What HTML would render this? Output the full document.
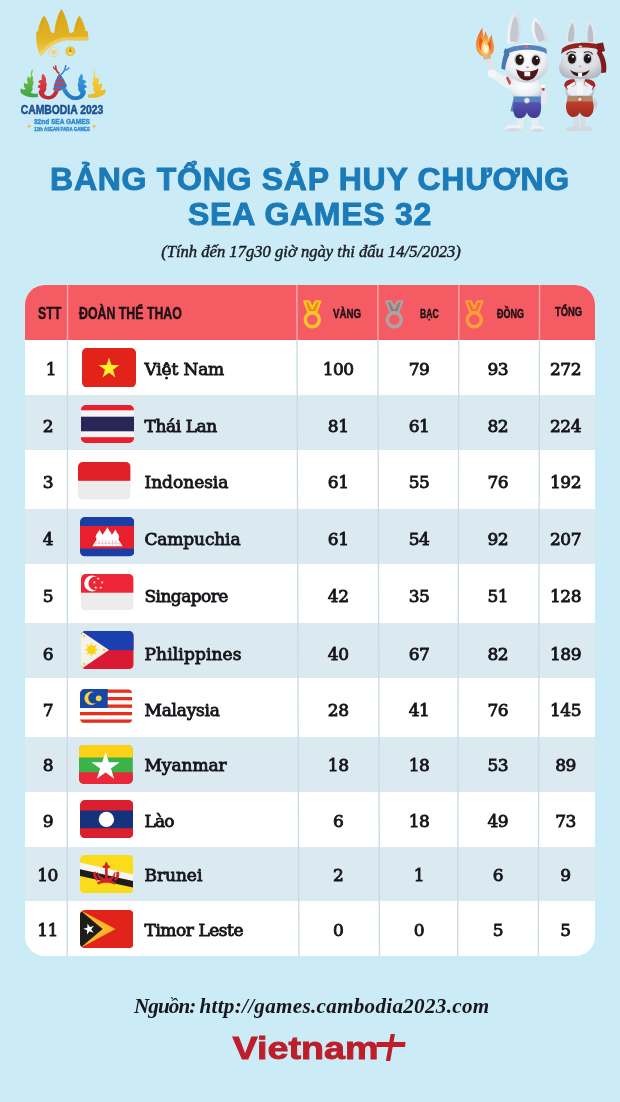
<!DOCTYPE html>
<html lang="vi"><head><meta charset="utf-8"><title>Bảng tổng sắp huy chương SEA Games 32</title>
<style>
html,body{margin:0;padding:0}
body{width:620px;height:1102px;overflow:hidden;background:#cbebf6;font-family:"Liberation Sans",sans-serif;position:relative}
.abs{position:absolute}
h1{position:absolute;left:0;width:620px;margin:0;text-align:center;color:#1b7ab8;font-weight:bold;font-size:32px;line-height:35px;top:161.5px;letter-spacing:.72px;-webkit-text-stroke:.95px #1b7ab8}
.sub{position:absolute;left:0;width:622px;top:243px;text-align:center;font-family:"Liberation Serif",serif;font-style:italic;font-size:16.6px;color:#1c1c24;line-height:18px;-webkit-text-stroke:.45px #1c1c24;white-space:nowrap}
#tbl{position:absolute;left:25.2px;top:284.5px;width:570.3px;height:671.4px;border-radius:20px;overflow:hidden;background:#fff}
#inner{position:absolute;left:-25.2px;top:-284.5px;width:620px;height:1102px}
.hd{position:absolute;left:25px;top:284px;width:571px;height:55.5px;background:#f55b63}
.alt{position:absolute;left:25px;width:571px;background:#dbeaf1}
.t{position:absolute;font-family:"DejaVu Serif","Liberation Serif",serif;font-size:17px;line-height:22px;height:22px;color:#15151a;white-space:nowrap;-webkit-text-stroke:.85px #15151a}
.n{text-align:center;width:80px;letter-spacing:-.5px}
.flag{position:absolute}
.ht{position:absolute;font-weight:bold;color:#1c1114;-webkit-text-stroke:.45px #1c1114;white-space:nowrap;transform-origin:0 50%;line-height:16px;height:16px}
.src{position:absolute;left:134px;width:400px;top:994px;font-family:"Liberation Serif",serif;font-style:italic;font-weight:bold;font-size:21.1px;line-height:24px;color:#17171f;white-space:nowrap}
</style></head><body>

<svg class="abs" style="left:10px;top:0px" width="110" height="140" viewBox="0 0 620 789">
<defs>
<linearGradient id="gGold" x1="0" y1="0" x2="0" y2="1"><stop offset="0" stop-color="#d9a514"/><stop offset=".6" stop-color="#e3b222"/><stop offset="1" stop-color="#f1cf52"/></linearGradient>
<linearGradient id="gGreen" x1="0" y1="0" x2="0" y2="1"><stop offset="0" stop-color="#8cc63f"/><stop offset="1" stop-color="#3aa648"/></linearGradient>
<linearGradient id="gYel" x1="0" y1="0" x2="0" y2="1"><stop offset="0" stop-color="#f8d94a"/><stop offset="1" stop-color="#e9b81e"/></linearGradient>
<linearGradient id="gRed" x1="0" y1="0" x2="0" y2="1"><stop offset="0" stop-color="#e0474f"/><stop offset="1" stop-color="#c22432"/></linearGradient>
<linearGradient id="gBlue" x1="0" y1="0" x2="0" y2="1"><stop offset="0" stop-color="#3f9ede"/><stop offset="1" stop-color="#1d78c4"/></linearGradient>
</defs>
<!-- crown -->
<path d="M148 180L158 176C163 140 176 106 192 89C208 106 222 140 229 178L238 186L250 184C255 130 270 80 290 50C310 80 326 130 335 184L348 186L359 178C365 140 377 106 391 89C405 106 419 140 427 176L439 176L442 227C400 233 340 222 300 229C250 239 205 276 175 318C154 286 145 236 148 180Z" fill="url(#gGold)"/>
<path d="M175 318C205 276 250 239 300 229C340 222 400 233 442 227L441 205C400 212 340 204 296 212C240 224 190 262 166 300Z" fill="#f4d976" opacity=".55"/>
<path d="M192 100C184 118 176 145 172 172M290 64C280 90 270 130 266 178M391 100C383 118 376 145 372 172" stroke="#c8930c" stroke-width="5" fill="none" opacity=".45"/>
<!-- medallions -->
<circle cx="245" cy="294" r="26" fill="#efe9d6" stroke="#d8c27a" stroke-width="3"/><circle cx="237" cy="290" r="8" fill="none" stroke="#c9b35f" stroke-width="2.500"/><circle cx="253" cy="290" r="8" fill="none" stroke="#c9b35f" stroke-width="2.500"/><circle cx="245" cy="302" r="8" fill="none" stroke="#c9b35f" stroke-width="2.500"/>
<circle cx="340" cy="289" r="26" fill="#ecc83e" stroke="#dcb02a" stroke-width="3"/><path d="M340 268L349 296H331Z" fill="#b8860b"/><circle cx="340" cy="300" r="8" fill="#f7e08a"/>
<!-- nagas: coordinates from zoom with origin (18,60) scale 6.889 -> map into this viewBox -->
<g transform="translate(45.090 345) scale(.8181)">
<!-- green -->
<path d="M100 52C104 70 100 84 92 96C104 100 108 116 100 130C110 140 110 160 98 172C106 186 100 206 86 214C100 224 120 226 138 224L136 247C100 251 50 247 24 222C14 210 14 196 22 186C30 195 44 198 54 192C40 180 36 162 44 146C50 155 62 158 70 152C58 138 60 118 70 104C74 113 84 116 90 110C84 92 88 70 100 52Z" fill="url(#gGreen)"/>
<!-- red -->
<path d="M170 86C162 100 160 114 166 128C152 126 142 134 140 146C148 147 154 151 156 158C144 161 136 169 134 181C144 181 152 185 154 192C144 199 140 211 144 223C152 248 178 264 210 264C248 264 272 238 282 200L256 190C248 222 232 240 208 240C190 240 180 230 180 216C192 208 198 193 194 178C200 166 200 152 192 142C196 128 192 112 184 104C184 97 178 90 170 86Z" fill="url(#gRed)"/>
<!-- centre cone -->
<path d="M286 84C266 108 250 150 242 198C262 210 292 204 310 194C322 188 332 180 338 172C326 140 308 108 286 84Z" fill="#2a7fd0"/>
<path d="M277 98L297 99L304 110L270 111ZM263 127L313 126L319 139L257 142ZM252 156L326 153L332 166L248 172ZM245 184L306 191L284 203L243 197Z" fill="#d93a46"/>
<!-- antlers -->
<path d="M280 90C264 78 252 58 254 28L265 30C264 52 272 68 288 82ZM258 62C248 58 240 48 240 36L249 36C250 46 256 52 264 55Z" fill="#d03040"/>
<path d="M290 88C308 78 322 58 324 26L334 28C332 60 318 82 298 96ZM322 68C338 66 350 58 356 44L347 41C343 52 334 58 322 59Z" fill="#2a7fd0"/>
<!-- blue -->
<path d="M440 86C448 100 450 114 444 128C458 126 468 134 470 146C462 147 456 151 454 158C466 161 474 169 476 181C466 181 458 185 456 192C466 199 470 211 466 223C458 248 432 268 398 268C356 268 324 238 304 196L330 182C344 218 370 242 398 242C418 242 430 230 430 216C418 208 412 193 416 178C410 166 410 152 418 142C414 128 418 112 426 104C426 97 432 90 440 86Z" fill="url(#gBlue)"/>
<!-- yellow -->
<path d="M520 56C516 74 520 88 528 100C516 104 512 120 520 134C510 144 510 164 522 176C514 190 520 210 534 218C520 228 500 230 482 228L484 251C520 255 570 251 596 226C606 214 606 200 598 190C590 199 576 202 566 196C580 184 584 166 576 150C570 159 558 162 550 156C562 142 560 122 550 108C546 117 536 120 530 114C536 96 532 74 520 56Z" fill="url(#gYel)"/>
</g>
<text x="60" y="643" font-family="'Liberation Sans',sans-serif" font-weight="bold" font-size="73" fill="#1c4f93" stroke="#1c4f93" stroke-width="3" textLength="466" lengthAdjust="spacingAndGlyphs">CAMBODIA 2023</text>
<text x="135" y="700" font-family="'Liberation Sans',sans-serif" font-weight="bold" font-size="44" fill="#2f8bd0" stroke="#2f8bd0" stroke-width="2.500" textLength="315" lengthAdjust="spacingAndGlyphs">32nd SEA GAMES</text>
<text x="135" y="741" font-family="'Liberation Sans',sans-serif" font-weight="bold" font-size="30" fill="#2f8bd0" stroke="#2f8bd0" stroke-width="2" textLength="315" lengthAdjust="spacingAndGlyphs">12th ASEAN PARA GAMES</text>
<path d="M108 699l4 9 9 4-9 4-4 9-4-9-9-4 9-4zM474 699l4 9 9 4-9 4-4 9-4-9-9-4 9-4z" fill="#e8c04a"/>
</svg>

<svg class="abs" style="left:472px;top:4px" width="82" height="136" viewBox="0 0 620 1028">
<defs>
<radialGradient id="gHead" cx=".45" cy=".35" r=".75"><stop offset="0" stop-color="#ffffff"/><stop offset=".6" stop-color="#eceff3"/><stop offset="1" stop-color="#b7c0cc"/></radialGradient>
<linearGradient id="gEar" x1="0" x2="1"><stop offset="0" stop-color="#f4f6f9"/><stop offset="1" stop-color="#d5dae2"/></linearGradient>
<radialGradient id="gFlame" cx=".5" cy=".7" r=".7"><stop offset="0" stop-color="#fff3c4"/><stop offset=".45" stop-color="#f9a33a"/><stop offset="1" stop-color="#e8561f"/></radialGradient>
<linearGradient id="gShortB" x1="0" y1="0" x2="0" y2="1"><stop offset="0" stop-color="#5a56b4"/><stop offset="1" stop-color="#3f3a92"/></linearGradient>
</defs>
<!-- torch -->
<path d="M78 180C60 215 25 260 32 325C38 375 75 405 112 400C152 395 176 352 162 300C156 275 150 262 150 232C138 246 130 262 126 278C122 250 112 228 100 205C98 222 94 236 88 250C82 228 78 205 78 180Z" fill="url(#gFlame)"/>
<path d="M60 250C48 290 52 330 70 355C66 320 72 295 84 275C78 270 68 262 60 250ZM140 270C150 300 150 335 136 362C134 335 126 312 116 298C126 292 134 282 140 270Z" fill="#e24a1c" opacity=".8"/>
<path d="M96 292C84 322 88 356 108 378C128 362 132 332 120 306C114 320 110 328 106 336C100 322 97 306 96 292Z" fill="#fff4dc" opacity=".9"/>
<path d="M84 394L140 386L170 522L140 532Z" fill="#dfe3e8"/><path d="M82 392L140 384L144 412L90 422Z" fill="#cdb98a"/>
<!-- ears -->
<path d="M327 50C368 100 378 200 352 300L268 300C260 200 284 100 327 50Z" fill="url(#gEar)"/>
<path d="M327 88C352 130 358 205 342 285L290 285C282 205 300 130 327 88Z" fill="#c3c8d1"/>
<path d="M470 100C522 118 564 200 574 280L492 306C452 250 436 160 470 100Z" fill="url(#gEar)"/>
<path d="M478 132C514 152 542 210 550 272L506 288C478 245 464 180 478 132Z" fill="#c3c8d1"/>
<!-- raised arm -->
<path d="M300 570C250 545 200 520 160 505C135 498 120 520 135 545C170 570 230 620 290 650Z" fill="#eef1f5"/>
<ellipse cx="150" cy="525" rx="32" ry="30" fill="#f4f6f9"/>
<path d="M272 548L300 600L282 612L256 558Z" fill="#d0453e"/>
<!-- right arm -->
<path d="M500 590C545 600 575 660 570 730C568 765 530 770 520 735C515 690 500 650 480 630Z" fill="#e6eaef"/>
<path d="M505 612L552 640L544 660L498 632Z" fill="#d0453e"/><path d="M515 622L548 606L554 624L522 640Z" fill="#fff"/>
<!-- torso -->
<path d="M300 560C280 620 300 690 320 720L515 720C535 680 530 610 505 570Z" fill="url(#gHead)"/>
<!-- sash -->
<path d="M318 700L290 810L330 815L345 720Z" fill="#5585bf"/>
<!-- legs & feet -->
<rect x="340" y="840" width="52" height="95" rx="20" fill="#e8ecf1"/><rect x="450" y="840" width="52" height="95" rx="20" fill="#e8ecf1"/>
<ellipse cx="312" cy="940" rx="64" ry="28" fill="#eef1f5"/><ellipse cx="494" cy="944" rx="54" ry="26" fill="#eef1f5"/>
<ellipse cx="312" cy="952" rx="58" ry="14" fill="#c3cbd6" opacity=".6"/><ellipse cx="494" cy="955" rx="48" ry="13" fill="#c3cbd6" opacity=".6"/>
<!-- shorts -->
<path d="M322 725C300 780 310 850 345 862C385 870 405 850 415 820C425 852 450 868 485 860C525 848 530 780 515 725Z" fill="url(#gShortB)"/>
<!-- belt -->
<path d="M315 700L520 700L522 742L318 742Z" fill="#5585bf"/><circle cx="415" cy="730" r="21" fill="#e8e8ea" stroke="#9aa2ad" stroke-width="5"/>
<!-- head -->
<ellipse cx="412" cy="445" rx="168" ry="150" fill="url(#gHead)"/>
<!-- headband -->
<path d="M252 350C300 300 500 295 562 340L568 378C500 335 320 335 258 385Z" fill="#5585bf"/>
<path d="M262 345C235 380 225 440 222 490L250 498C255 450 268 410 285 380Z" fill="#4877ad"/>
<path d="M250 335L285 350L270 385L238 370Z" fill="#4877ad"/>
<ellipse cx="412" cy="322" rx="16" ry="10" fill="#e06a8a"/>
<!-- eyes -->
<ellipse cx="358" cy="420" rx="42" ry="50" fill="#d3d8df"/><ellipse cx="483" cy="425" rx="40" ry="48" fill="#d3d8df"/>
<ellipse cx="360" cy="422" rx="32" ry="40" fill="#2a1712"/><ellipse cx="483" cy="427" rx="30" ry="38" fill="#2a1712"/>
<circle cx="368" cy="405" r="9" fill="#fff"/><circle cx="492" cy="410" r="8" fill="#fff"/>
<!-- nose & mouth -->
<ellipse cx="420" cy="478" rx="12" ry="7" fill="#c9a0a8"/>
<path d="M335 492C370 520 465 518 502 486C496 545 458 578 416 578C374 578 342 548 335 492Z" fill="#4f1717"/>
<path d="M396 514H440V546H396Z" fill="#fff"/><path d="M418 514V546" stroke="#c9ced6" stroke-width="3"/>
</svg>
<svg class="abs" style="left:548px;top:4px" width="70" height="136" viewBox="0 0 567 1102">
<defs>
<radialGradient id="gHead2" cx=".5" cy=".35" r=".75"><stop offset="0" stop-color="#eff1f3"/><stop offset=".55" stop-color="#d9dde2"/><stop offset="1" stop-color="#a1aab5"/></radialGradient>
<linearGradient id="gPant" x1="0" y1="0" x2="0" y2="1"><stop offset="0" stop-color="#c8402c"/><stop offset="1" stop-color="#9f2a1e"/></linearGradient>
</defs>
<!-- ears -->
<path d="M200 112C232 160 232 250 212 318L150 318C138 250 160 160 200 112Z" fill="#e3e6eb"/><path d="M198 150C218 190 218 255 204 305L164 305C156 255 172 190 198 150Z" fill="#b9c0c9"/>
<path d="M338 122C372 165 386 250 378 320L316 320C300 250 306 165 338 122Z" fill="#e3e6eb"/><path d="M340 160C362 195 370 258 364 308L326 308C314 258 320 195 340 160Z" fill="#b9c0c9"/>
<path d="M262 290L272 320L250 320Z" fill="#e3e6eb"/>
<!-- tail -->
<path d="M372 760L400 800L392 850L368 820Z" fill="#c9ced6"/>
<!-- legs & feet -->
<rect x="208" y="900" width="42" height="105" rx="16" fill="#d7dce2"/><rect x="262" y="900" width="42" height="105" rx="16" fill="#d7dce2"/>
<ellipse cx="205" cy="1012" rx="58" ry="20" fill="#d3d8df"/><ellipse cx="305" cy="1012" rx="55" ry="20" fill="#d3d8df"/>
<!-- torso -->
<path d="M150 620C125 660 135 720 165 760L350 760C385 720 390 660 365 620Z" fill="url(#gHead2)"/>
<path d="M130 660C135 625 165 605 215 610L225 650L160 700Z" fill="#a3262a"/><path d="M385 660C380 625 350 605 300 610L290 650L355 700Z" fill="#a3262a"/>
<path d="M150 668L215 628L222 650L160 695Z" fill="#f2f3f5"/><path d="M365 668L300 628L293 650L355 695Z" fill="#f2f3f5"/>
<ellipse cx="205" cy="705" rx="48" ry="36" fill="#eceff2"/><ellipse cx="310" cy="705" rx="48" ry="36" fill="#eceff2"/>
<path d="M240 630L275 630L285 740L232 740Z" fill="#f4f5f7"/>
<!-- pants -->
<path d="M160 770C130 830 150 905 195 915C230 920 250 900 258 880C266 902 290 922 325 915C370 905 385 830 355 770Z" fill="url(#gPant)"/>
<!-- belt -->
<path d="M158 745L360 745L364 790L154 790Z" fill="#b08a6a"/><circle cx="258" cy="772" r="19" fill="#ead9c0" stroke="#a3262a" stroke-width="5"/>
<!-- head -->
<path d="M265 330C170 330 110 390 105 470C80 500 85 560 130 590C170 615 360 615 400 590C445 560 450 500 425 470C420 390 360 330 265 330Z" fill="url(#gHead2)"/>
<!-- headband -->
<path d="M112 400C150 330 370 320 425 372L418 338C380 300 160 310 118 365Z" fill="#fff" opacity=".0"/>
<path d="M106 408C150 345 360 335 428 380L424 338C370 298 160 306 114 362Z" fill="#93211f"/>
<path d="M392 322L446 312L462 380L404 398Z" fill="#7f1b1b"/>
<path d="M424 372C458 420 482 480 470 556L430 560C440 505 424 445 394 398Z" fill="#7f1b1b"/>
<ellipse cx="262" cy="345" rx="14" ry="8" fill="#f1d8dc"/>
<!-- eyes -->
<ellipse cx="194" cy="442" rx="42" ry="50" fill="#c3c9d1"/><ellipse cx="320" cy="442" rx="40" ry="48" fill="#c3c9d1"/>
<ellipse cx="194" cy="444" rx="32" ry="40" fill="#241512"/><ellipse cx="320" cy="444" rx="30" ry="38" fill="#241512"/>
<circle cx="202" cy="428" r="9" fill="#fff"/><circle cx="330" cy="428" r="8" fill="#fff"/>
<path d="M150 410C165 385 200 380 225 395" stroke="#3a2a2a" stroke-width="9" fill="none"/><path d="M290 395C315 380 350 385 362 410" stroke="#3a2a2a" stroke-width="9" fill="none"/>
<!-- nose & mouth -->
<ellipse cx="258" cy="505" rx="11" ry="7" fill="#c9a0a8"/>
<path d="M180 532C220 566 295 566 338 532C322 572 292 586 258 586C224 586 196 572 180 532Z" fill="#3f1414"/>
<path d="M244 558H276V590H244Z" fill="#fff"/>
</svg>

<h1>BẢNG TỔNG SẮP HUY CHƯƠNG<br>SEA GAMES 32</h1>
<div class="sub">(Tính đến 17g30 giờ ngày thi đấu 14/5/2023)</div>
<div id="tbl"><div id="inner">
<div class="hd"></div>
<div class="alt" style="top:394.5px;height:55.1px"></div>
<div class="alt" style="top:509.4px;height:54.6px"></div>
<div class="alt" style="top:623.3px;height:55.0px"></div>
<div class="alt" style="top:737.3px;height:54.3px"></div>
<div class="alt" style="top:846.7px;height:54.6px"></div>
<svg class="abs" style="left:0;top:0" width="620" height="1102" viewBox="0 0 620 1102" fill="none" stroke-width="1.350"><line x1="67.55" y1="284" x2="67.52" y2="339.500" stroke="#f8aeb0"/><line x1="67.52" y1="339.500" x2="67.19" y2="957" stroke="#c9dbe5"/><line x1="296.84" y1="284" x2="297.01" y2="339.500" stroke="#f8aeb0"/><line x1="297.01" y1="339.500" x2="298.88" y2="957" stroke="#c9dbe5"/><line x1="377.79" y1="284" x2="377.92" y2="339.500" stroke="#f8aeb0"/><line x1="377.92" y1="339.500" x2="379.47" y2="957" stroke="#c9dbe5"/><line x1="458.85" y1="284" x2="458.75" y2="339.500" stroke="#f8aeb0"/><line x1="458.75" y1="339.500" x2="457.65" y2="957" stroke="#c9dbe5"/><line x1="539.55" y1="284" x2="539.45" y2="339.500" stroke="#f8aeb0"/><line x1="539.45" y1="339.500" x2="538.35" y2="957" stroke="#c9dbe5"/></svg>
<div class="t n" style="left:11px;top:358.20px">1</div>
<svg class="flag" style="left:82px;top:348px" width="54" height="39.4" viewBox="0 0 54 39.4"><defs><clipPath id="cvn"><rect width="54" height="39.4" rx="4.800"/></clipPath></defs><g clip-path="url(#cvn)"><rect width="54" height="39.4" fill="#e2231a"/><polygon points="27.00,9.50 29.47,17.10 37.46,17.10 31.00,21.80 33.47,29.40 27.00,24.70 20.53,29.40 23.00,21.80 16.54,17.10 24.53,17.10" fill="#ffee2a"/></g></svg>
<div class="t" style="left:144.500px;top:358.20px;letter-spacing:-0.16px">Việt Nam</div>
<div class="t n" style="left:298.2px;top:358.20px">100</div>
<div class="t n" style="left:379px;top:358.20px">79</div>
<div class="t n" style="left:457.8px;top:358.20px">93</div>
<div class="t n" style="left:525.5px;top:358.20px">272</div>
<div class="t n" style="left:8px;top:414.60px">2</div>
<svg class="flag" style="left:81px;top:405.2px" width="53" height="38.0" viewBox="0 0 53 38.0"><defs><clipPath id="cth"><rect width="53" height="38.0" rx="4.800"/></clipPath></defs><g clip-path="url(#cth)"><rect width="53" height="38.0" fill="#f4f4f4"/><rect width="53" height="5.3" fill="#e8202e"/><rect y="32.2" width="53" height="5.8" fill="#e8202e"/><rect y="11.7" width="53" height="14.6" fill="#292556"/></g></svg>
<div class="t" style="left:144.500px;top:414.60px;letter-spacing:-0.41px">Thái Lan</div>
<div class="t n" style="left:298.2px;top:414.60px">81</div>
<div class="t n" style="left:379px;top:414.60px">61</div>
<div class="t n" style="left:457.8px;top:414.60px">82</div>
<div class="t n" style="left:525.5px;top:414.60px">224</div>
<div class="t n" style="left:8px;top:471.10px">3</div>
<svg class="flag" style="left:78.4px;top:462px" width="52.6" height="37.7" viewBox="0 0 52.6 37.7"><defs><clipPath id="cid"><rect width="52.6" height="37.7" rx="4.800"/></clipPath></defs><g clip-path="url(#cid)"><rect width="52.6" height="37.7" fill="#ececec"/><rect width="52.6" height="18.8" fill="#e01f26"/></g></svg>
<div class="t" style="left:144.500px;top:471.10px;letter-spacing:-0.02px">Indonesia</div>
<div class="t n" style="left:298.2px;top:471.10px">61</div>
<div class="t n" style="left:379px;top:471.10px">55</div>
<div class="t n" style="left:457.8px;top:471.10px">76</div>
<div class="t n" style="left:525.5px;top:471.10px">192</div>
<div class="t n" style="left:8px;top:528.20px">4</div>
<svg class="flag" style="left:80px;top:517px" width="54.3" height="39.5" viewBox="0 0 54.3 39.5"><defs><clipPath id="ckh"><rect width="54.3" height="39.5" rx="4.800"/></clipPath></defs><g clip-path="url(#ckh)"><rect width="54.3" height="39.5" fill="#1b3da6"/><rect y="9" width="54.3" height="22.6" fill="#e8202e"/><path d="M12.500 29.200h30l-3-5.200h-24z" fill="#fff"/><rect x="16.300" y="19.500" width="22.400" height="5" fill="#fff"/><path d="M15.600 20.500C15.600 17 18.400 15.500 19.500 12.400C20.600 15.500 23.400 17 23.400 20.500ZM22.400 20.500C22.400 16 26 14 27.400 10C28.800 14 32.400 16 32.400 20.500ZM31.400 20.500C31.400 17 34.200 15.500 35.300 12.400C36.400 15.500 39.200 17 39.200 20.500Z" fill="#fff"/><path d="M19 23v5.200M22.500 23v5.200M25.800 23v5.200M29.200 23v5.200M32.500 23v5.200M36 23v5.200M15 26.200h25" stroke="#e58a94" stroke-width=".5"/></g></svg>
<div class="t" style="left:144.500px;top:528.20px;letter-spacing:-0.14px">Campuchia</div>
<div class="t n" style="left:298.2px;top:528.20px">61</div>
<div class="t n" style="left:379px;top:528.20px">54</div>
<div class="t n" style="left:457.8px;top:528.20px">92</div>
<div class="t n" style="left:525.5px;top:528.20px">207</div>
<div class="t n" style="left:8px;top:585.00px">5</div>
<svg class="flag" style="left:81.4px;top:573.7px" width="52.6" height="36.8" viewBox="0 0 52.6 36.8"><defs><clipPath id="csg"><rect width="52.6" height="36.8" rx="4.800"/></clipPath></defs><g clip-path="url(#csg)"><rect width="52.6" height="36.8" fill="#ececec"/><rect width="52.6" height="18.7" fill="#ee2536"/><circle cx="11.200" cy="9.400" r="8" fill="#fff"/><circle cx="14.500" cy="9.400" r="7" fill="#ee2536"/><polygon points="17.20,2.90 17.58,4.07 18.82,4.07 17.82,4.80 18.20,5.98 17.20,5.25 16.20,5.98 16.58,4.80 15.58,4.07 16.82,4.07" fill="#fff" opacity=".9"/><polygon points="13.40,6.70 13.78,7.87 15.02,7.87 14.02,8.60 14.40,9.78 13.40,9.05 12.40,9.78 12.78,8.60 11.78,7.87 13.02,7.87" fill="#fff" opacity=".9"/><polygon points="21.20,6.70 21.58,7.87 22.82,7.87 21.82,8.60 22.20,9.78 21.20,9.05 20.20,9.78 20.58,8.60 19.58,7.87 20.82,7.87" fill="#fff" opacity=".9"/><polygon points="14.80,11.90 15.18,13.07 16.42,13.07 15.42,13.80 15.80,14.98 14.80,14.25 13.80,14.98 14.18,13.80 13.18,13.07 14.42,13.07" fill="#fff" opacity=".9"/><polygon points="19.80,11.90 20.18,13.07 21.42,13.07 20.42,13.80 20.80,14.98 19.80,14.25 18.80,14.98 19.18,13.80 18.18,13.07 19.42,13.07" fill="#fff" opacity=".9"/></g></svg>
<div class="t" style="left:144.500px;top:585.00px;letter-spacing:-0.56px">Singapore</div>
<div class="t n" style="left:298.2px;top:585.00px">42</div>
<div class="t n" style="left:379px;top:585.00px">35</div>
<div class="t n" style="left:457.8px;top:585.00px">51</div>
<div class="t n" style="left:525.5px;top:585.00px">128</div>
<div class="t n" style="left:8px;top:642.50px">6</div>
<svg class="flag" style="left:81.4px;top:631.1px" width="52.7" height="38.1" viewBox="0 0 52.7 38.1"><defs><clipPath id="cph"><rect width="52.7" height="38.1" rx="4.800"/></clipPath></defs><g clip-path="url(#cph)"><rect width="52.7" height="38.1" fill="#da1a32"/><rect width="52.7" height="19.100" fill="#1b3fae"/><polygon points="0,0 28,19.1 0,38.1" fill="#f6f3ea"/><circle cx="10.500" cy="18.700" r="4" fill="#f9d216"/><polygon points="10.50,11.10 12.03,15.00 15.87,13.33 14.20,17.17 18.10,18.70 14.20,20.23 15.87,24.07 12.03,22.40 10.50,26.30 8.97,22.40 5.13,24.07 6.80,20.23 2.90,18.70 6.80,17.17 5.13,13.33 8.97,15.00" fill="#f9d216" opacity=".75"/><circle cx="3" cy="5" r="1.200" fill="#f9d216"/><circle cx="3" cy="33" r="1.200" fill="#f9d216"/><circle cx="23" cy="19" r="1.200" fill="#f9d216"/></g></svg>
<div class="t" style="left:144.500px;top:642.50px;letter-spacing:0.14px">Philippines</div>
<div class="t n" style="left:298.2px;top:642.50px">40</div>
<div class="t n" style="left:379px;top:642.50px">67</div>
<div class="t n" style="left:457.8px;top:642.50px">82</div>
<div class="t n" style="left:525.5px;top:642.50px">189</div>
<div class="t n" style="left:8px;top:699.20px">7</div>
<svg class="flag" style="left:80px;top:689.4px" width="52.3" height="34.4" viewBox="0 0 52.3 34.4"><defs><clipPath id="cmy"><rect width="52.3" height="34.4" rx="4.800"/></clipPath></defs><g clip-path="url(#cmy)"><rect width="52.3" height="34.4" fill="#fbfbfb"/><rect y="0.50" width="52.3" height="3.300" fill="#e3321c"/><rect y="8.00" width="52.3" height="3.300" fill="#e3321c"/><rect y="15.50" width="52.3" height="3.300" fill="#e3321c"/><rect y="23.00" width="52.3" height="3.300" fill="#e3321c"/><rect y="30.50" width="52.3" height="3.300" fill="#e3321c"/><rect width="27.700" height="19" fill="#1747a6"/><circle cx="11.300" cy="9.300" r="6.800" fill="#f5d63d"/><circle cx="14" cy="8.800" r="5.800" fill="#1747a6"/><circle cx="18.700" cy="9.300" r="2.900" fill="#f5d63d"/></g></svg>
<div class="t" style="left:144.500px;top:699.20px;letter-spacing:-0.22px">Malaysia</div>
<div class="t n" style="left:298.2px;top:699.20px">28</div>
<div class="t n" style="left:379px;top:699.20px">41</div>
<div class="t n" style="left:457.8px;top:699.20px">76</div>
<div class="t n" style="left:525.5px;top:699.20px">145</div>
<div class="t n" style="left:8px;top:753.90px">8</div>
<svg class="flag" style="left:79.3px;top:744.8px" width="53.9" height="39.0" viewBox="0 0 53.9 39.0"><defs><clipPath id="cmm"><rect width="53.9" height="39.0" rx="4.800"/></clipPath></defs><g clip-path="url(#cmm)"><rect width="53.9" height="39.0" fill="#3cb34a"/><rect width="53.9" height="12.500" fill="#fdd116"/><rect y="27.300" width="53.9" height="11.7" fill="#ea2839"/><polygon points="26.55,7.00 29.87,17.23 40.63,17.23 31.93,23.55 35.25,33.77 26.55,27.45 17.85,33.77 21.17,23.55 12.47,17.23 23.23,17.23" fill="#fff"/></g></svg>
<div class="t" style="left:144.500px;top:753.90px;letter-spacing:-0.05px">Myanmar</div>
<div class="t n" style="left:298.2px;top:753.90px">18</div>
<div class="t n" style="left:379px;top:753.90px">18</div>
<div class="t n" style="left:457.8px;top:753.90px">53</div>
<div class="t n" style="left:525.5px;top:753.90px">89</div>
<div class="t n" style="left:8px;top:809.60px">9</div>
<svg class="flag" style="left:79.7px;top:800px" width="53.3" height="38.2" viewBox="0 0 53.3 38.2"><defs><clipPath id="cla"><rect width="53.3" height="38.2" rx="4.800"/></clipPath></defs><g clip-path="url(#cla)"><rect width="53.3" height="38.2" fill="#dc1f2e"/><rect y="10.500" width="53.3" height="17.700" fill="#15327d"/><circle cx="26.400" cy="19.400" r="7.700" fill="#fff"/></g></svg>
<div class="t" style="left:144.500px;top:809.60px;letter-spacing:-0.83px">Lào</div>
<div class="t n" style="left:298.2px;top:809.60px">6</div>
<div class="t n" style="left:379px;top:809.60px">18</div>
<div class="t n" style="left:457.8px;top:809.60px">49</div>
<div class="t n" style="left:525.5px;top:809.60px">73</div>
<div class="t n" style="left:7.5px;top:863.50px">10</div>
<svg class="flag" style="left:79.7px;top:854.8px" width="53.5" height="38.5" viewBox="0 0 53.5 38.5"><defs><clipPath id="cbn"><rect width="53.5" height="38.5" rx="4.800"/></clipPath></defs><g clip-path="url(#cbn)"><rect width="53.5" height="38.5" fill="#fbdc1a"/><polygon points="0,7.500 53.5,19.500 53.5,26 0,14.300" fill="#f6f6f6"/><polygon points="0,14.300 53.5,26 53.5,32.700 0,21" fill="#1d1d1b"/><g fill="#d4202a" stroke="#d4202a" stroke-width=".9" stroke-linejoin="round"><path d="M26.300 7l1.200 3h-2.400z"/><path d="M22.800 11.500c2-1.800 5-1.800 7 0l-.5 1h-6z"/><rect x="25.500" y="12" width="1.700" height="11"/><path d="M17.500 17.500c.5 5.500 4 9 8.800 9s8.300-3.500 8.800-9c-1.500 4-4.500 6.200-8.800 6.200s-7.300-2.200-8.800-6.200z"/><path d="M17.500 27.500c3-1.800 6-2.300 8.800-2.300s5.800.5 8.800 2.300l-.8 1.700c-2.500-1.400-5-1.900-8-1.900s-5.500.5-8 1.900z"/><path d="M14 17c-.8 3.500.3 6.500 3 8.500l1.200-1.300c-2-1.700-2.800-4-2.400-6.800z"/><path d="M38.600 17c.8 3.500-.3 6.500-3 8.500l-1.200-1.300c2-1.700 2.800-4 2.400-6.800z"/></g></g></svg>
<div class="t" style="left:144.500px;top:863.50px;letter-spacing:-0.04px">Brunei</div>
<div class="t n" style="left:298.2px;top:863.50px">2</div>
<div class="t n" style="left:379px;top:863.50px">1</div>
<div class="t n" style="left:457.8px;top:863.50px">6</div>
<div class="t n" style="left:525.5px;top:863.50px">9</div>
<div class="t n" style="left:7.5px;top:919.20px">11</div>
<svg class="flag" style="left:79.7px;top:909.9px" width="53.8" height="38.2" viewBox="0 0 53.8 38.2"><defs><clipPath id="ctl"><rect width="53.8" height="38.2" rx="4.800"/></clipPath></defs><g clip-path="url(#ctl)"><rect width="53.8" height="38.2" fill="#e2231a"/><polygon points="0,0 35.500,19.1 0,38.2" fill="#fdb52a"/><polygon points="0,0 22.600,19.1 0,38.2" fill="#1d1d1b"/><polygon points="7.50,13.50 9.79,17.03 13.86,15.94 11.21,19.22 13.51,22.75 9.57,21.24 6.92,24.51 7.14,20.31 3.21,18.80 7.28,17.71" fill="#fff"/></g></svg>
<div class="t" style="left:144.500px;top:919.20px;letter-spacing:-0.46px">Timor Leste</div>
<div class="t n" style="left:298.2px;top:919.20px">0</div>
<div class="t n" style="left:379px;top:919.20px">0</div>
<div class="t n" style="left:457.8px;top:919.20px">5</div>
<div class="t n" style="left:525.5px;top:919.20px">5</div>
<div class="ht" style="left:37.5px;top:305.45px;font-size:16.5px;transform:scaleX(0.744)">STT</div>
<div class="ht" style="left:79px;top:305.45px;font-size:16.5px;transform:scaleX(0.748)">ĐOÀN THỂ THAO</div>
<div class="ht" style="left:333.4px;top:305.90px;font-size:13px;transform:scaleX(0.748)">VÀNG</div>
<div class="ht" style="left:420.3px;top:305.90px;font-size:13px;transform:scaleX(0.660)">BẠC</div>
<div class="ht" style="left:496.5px;top:305.90px;font-size:13px;transform:scaleX(0.692)">ĐỒNG</div>
<div class="ht" style="left:554.5px;top:303.90px;font-size:13px;transform:scaleX(0.722)">TỔNG</div>
<svg class="abs" style="left:302.4px;top:297.600px" width="21" height="31" viewBox="-1 -1 21 31" fill="none" stroke="#fcc62a" stroke-linejoin="round"><path d="M1.200 2.300H6L9.300 9.200 12.600 2.300H17.400L13.300 13.200H5.300Z" stroke-width="2.100" fill="#e9920f"/><circle cx="9.300" cy="20.700" r="7" stroke-width="3.500"/></svg>
<svg class="abs" style="left:383.7px;top:297.600px" width="21" height="31" viewBox="-1 -1 21 31" fill="none" stroke="#ada3a4" stroke-linejoin="round"><path d="M1.200 2.300H6L9.300 9.200 12.600 2.300H17.400L13.300 13.200H5.300Z" stroke-width="2.100" fill="#8f7f80"/><circle cx="9.300" cy="20.700" r="7" stroke-width="3.500"/></svg>
<svg class="abs" style="left:464.4px;top:297.600px" width="21" height="31" viewBox="-1 -1 21 31" fill="none" stroke="#ff9d3f" stroke-linejoin="round"><path d="M1.200 2.300H6L9.300 9.200 12.600 2.300H17.400L13.300 13.200H5.300Z" stroke-width="2.100" fill="#f5703a"/><circle cx="9.300" cy="20.700" r="7" stroke-width="3.500"/></svg>
</div></div>
<div class="src"><span style="letter-spacing:-.9px">Nguồn:</span><span style="position:absolute;left:65.500px;top:0;letter-spacing:.3px">http://games.cambodia2023.com</span></div>
<svg class="abs" style="left:220px;top:1020px" width="200" height="55" viewBox="0 0 200 55">
<defs><clipPath id="cpl"><rect x="150" y="14" width="35.500" height="41"/></clipPath></defs>
<text x="12.500" y="38.700" font-family="'Liberation Sans',sans-serif" font-weight="bold" font-size="31.700" fill="#bd1e2a" stroke="#bd1e2a" stroke-width=".9" textLength="146" lengthAdjust="spacingAndGlyphs">Vietnam</text>
<g clip-path="url(#cpl)"><text x="0" y="0" transform="translate(149.600 46.700) skewX(-10) scale(1 1.130)" font-family="'Liberation Sans',sans-serif" font-size="60" fill="#bd1e2a">+</text></g>
</svg>

</body></html>
